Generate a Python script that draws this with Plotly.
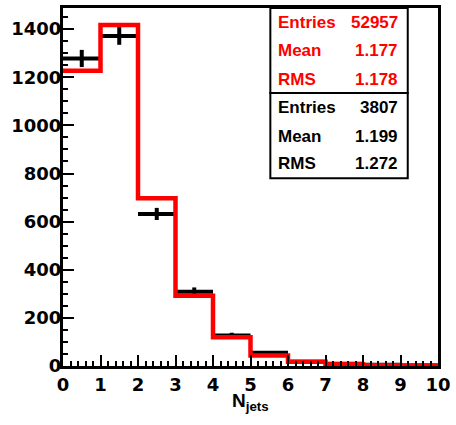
import numpy as np
import plotly.graph_objects as go

# Jet multiplicity: bin edges, measured counts and scaled simulation
bin_edges = [0, 1, 2, 3, 4, 5, 6, 7, 8, 9, 10]
data_counts = [1278, 1372, 632, 309, 127, 55, 18, 9, 5, 2]
mc_counts = [1227, 1417, 697, 292, 119, 44, 18, 7, 3, 2]

# Statistics box contents
mc_stats_labels = ["Entries", "Mean", "RMS"]
mc_stats_values = ["52957", "1.177", "1.178"]
data_stats_labels = ["Entries", "Mean", "RMS"]
data_stats_values = ["3807", "1.199", "1.272"]

W, H = 456, 425
L, R, T, B = 63, 441, 5, 366  # plot frame in pixels

def px(x):
    return (x - L) / (R - L)

def py(y):
    return (B - y) / (B - T)

FONT = "Liberation Sans"
TICK_FONT = "DejaVu Sans"
centers = [(a + b) / 2 for a, b in zip(bin_edges[:-1], bin_edges[1:])]
half_w = [(b - a) / 2 for a, b in zip(bin_edges[:-1], bin_edges[1:])]

fig = go.Figure()

# Data points with Poisson errors and bin-width horizontal bars
fig.add_trace(go.Scatter(
    x=centers, y=data_counts, mode="markers",
    marker=dict(size=1, color="black"),
    error_x=dict(type="data", array=half_w, width=0, thickness=4, color="black"),
    error_y=dict(type="data", array=list(np.sqrt(data_counts)), width=0,
                 thickness=4, color="black"),
    showlegend=False, hoverinfo="skip",
))

# Simulation as a step histogram
fig.add_trace(go.Scatter(
    x=bin_edges, y=mc_counts + [mc_counts[-1]], mode="lines",
    line=dict(shape="hv", color="#ff0000", width=4.5),
    showlegend=False, hoverinfo="skip",
))

ymax = max(mc_counts) * 1.05

axis_font = dict(family=TICK_FONT, size=18, color="black", weight="bold")
fig.update_xaxes(
    range=[0, 10], showgrid=False, zeroline=False,
    showline=True, linecolor="black", linewidth=3, mirror=True,
    ticks="inside", ticklen=11, tickwidth=2, tickcolor="black",
    dtick=1, tick0=0, tickfont=axis_font, ticklabelstandoff=0,
    minor=dict(ticks="inside", ticklen=5, tickwidth=2, tickcolor="black", dtick=0.2),
)
fig.update_yaxes(
    range=[0, ymax], showgrid=False, zeroline=False,
    showline=True, linecolor="black", linewidth=3, mirror=True,
    ticks="inside", ticklen=11, tickwidth=2, tickcolor="black",
    dtick=200, tick0=0, tickfont=axis_font, ticklabelstandoff=-5,
    minor=dict(ticks="inside", ticklen=5, tickwidth=2, tickcolor="black", dtick=50),
)

# x-axis title with subscript
fig.add_annotation(
    x=px(251.5), y=py(388), xref="paper", yref="paper",
    text="N<sub>jets</sub>", showarrow=False, xanchor="center", yanchor="top",
    font=dict(family=FONT, size=19, color="black", weight="bold"),
)

# Statistics boxes
box_l, box_r = 272, 410.5
fig.add_shape(type="rect", xref="paper", yref="paper",
              x0=px(box_l), x1=px(box_r), y0=py(90.7), y1=py(T),
              line=dict(color="black", width=2), fillcolor="white", layer="above")
fig.add_shape(type="rect", xref="paper", yref="paper",
              x0=px(box_l), x1=px(box_r), y0=py(176.7), y1=py(90.7),
              line=dict(color="black", width=2), fillcolor="white", layer="above")

rows_y = [19, 47, 76.3, 104.5, 133.8, 161.2]
labels = mc_stats_labels + data_stats_labels
values = mc_stats_values + data_stats_values
colors = ["#ff0000"] * 3 + ["black"] * 3
for yy, lab, val, col in zip(rows_y, labels, values, colors):
    f = dict(family=FONT, size=17, color=col, weight="bold")
    fig.add_annotation(x=px(278), y=py(yy + 1), xref="paper", yref="paper",
                       text=lab, showarrow=False, xanchor="left", yanchor="middle", font=f)
    fig.add_annotation(x=px(402.5), y=py(yy + 1), xref="paper", yref="paper",
                       text=val, showarrow=False, xanchor="right", yanchor="middle", font=f)

fig.update_layout(
    width=W, height=H,
    margin=dict(l=L, r=W - R, t=T, b=H - B),
    paper_bgcolor="white", plot_bgcolor="white",
)

fig.write_html("out.html")
